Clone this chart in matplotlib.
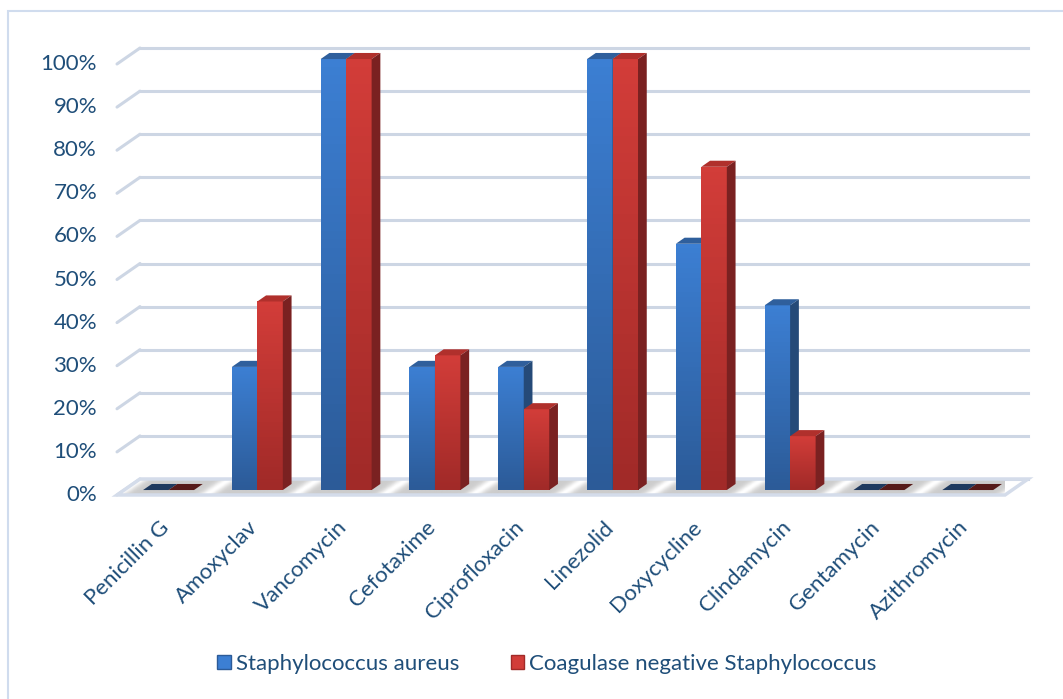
import numpy as np
import matplotlib
matplotlib.use("Agg")
import matplotlib.pyplot as plt
from matplotlib.patches import Polygon, Patch, Rectangle
from matplotlib.colors import LinearSegmentedColormap

# ======================
# DATA
# ======================
categories = ["Penicillin G", "Amoxyclav", "Vancomycin", "Cefotaxime", "Ciprofloxacin",
              "Linezolid", "Doxycycline", "Clindamycin", "Gentamycin", "Azithromycin"]
s_aureus = [0, 28.57, 100, 28.57, 28.57, 100, 57.14, 42.86, 0, 0]
cons     = [0, 43.75, 100, 31.25, 18.75, 100, 75.0, 12.5, 0, 0]
series_names = ["Staphylococcus aureus", "Coagulase negative Staphylococcus"]
y_ticks = list(range(0, 101, 10))

# ======================
# STYLE
# ======================
TEXT_C = "#1f4e79"
GRID_C = "#cdd6e4"
FS = 16
plt.rcParams["font.family"] = ["Lato", "DejaVu Sans"]

BLUE = {"front": ["#2c5b98", "#3c7fd3"], "top": "#2f5f9c", "side": "#254a78", "flat": "#1f3a5f"}
RED  = {"front": ["#a12a28", "#d23d39"], "top": "#b0302c", "side": "#7a2121", "flat": "#561a19"}

# oblique depth in data units (category units, percent)
DX, DY = 0.259, 3.71
D1, D2 = 0.31, 0.69      # bar front / back depth fraction
BAR_W = 0.287

fig = plt.figure(figsize=(10.63, 6.99), dpi=100)
ax = fig.add_axes([117 / 1063, (699 - 495) / 699, 888 / 1063, 431 / 699])

# chart border
fig.patches.append(Rectangle((8 / 1063, -0.05), 1.2, 1.05 - 11 / 699, transform=fig.transFigure,
                             fill=False, edgecolor="#d0dcee", lw=1.5))

# ======================
# WALL GRIDLINES
# ======================
for v in y_ticks:
    ax.plot([0, DX], [v, v + DY], color=GRID_C, lw=2.2, clip_on=False, zorder=0.5,
            solid_capstyle="round")
    ax.plot([DX, len(categories) + DX], [v + DY, v + DY], color=GRID_C, lw=2.2,
            clip_on=False, zorder=0.5)
    ax.text(-0.225, v, f"{v}%", ha="right", va="center", fontsize=FS, color=TEXT_C)

# ======================
# FLOOR
# ======================
n = len(categories)
floor_pts = [(0, 0), (n, 0), (n + DX, DY), (DX, DY)]
floor = Polygon(floor_pts, closed=True, facecolor="none", edgecolor="#d4dcea", lw=2.5,
                clip_on=False, zorder=1.2)
ax.add_patch(floor)
xx, yy = np.meshgrid(np.linspace(0, n + DX, 800), np.linspace(0, DY, 20))
s = (xx - yy / DY * DX) % 1.0
dist = np.minimum(s, 1 - s)
shade = 0.80 + 0.2 * np.exp(-(dist / 0.09) ** 2)
im = ax.imshow(shade, extent=(0, n + DX, 0, DY), origin="lower", cmap="gray",
               vmin=0, vmax=1, aspect="auto", zorder=1, clip_on=True)
im.set_clip_path(floor)


def draw_bar(x0, h, col, z):
    fx, fy = x0 + D1 * DX, D1 * DY
    ddx, ddy = (D2 - D1) * DX, (D2 - D1) * DY
    if h <= 0:
        flat = Polygon([(fx, fy), (fx + BAR_W, fy), (fx + BAR_W + ddx, fy + ddy), (fx + ddx, fy + ddy)],
                       closed=True, facecolor=col["flat"], edgecolor="none", clip_on=False, zorder=z)
        ax.add_patch(flat)
        return
    bar = ax.bar(fx, h, width=BAR_W, bottom=fy, align="edge", color=col["front"][0],
                 clip_on=False, zorder=z)[0]
    cmap = LinearSegmentedColormap.from_list("g", col["front"])
    g = ax.imshow(np.linspace(0, 1, 50).reshape(-1, 1), extent=(fx, fx + BAR_W, fy, fy + h),
                  origin="lower", cmap=cmap, aspect="auto", zorder=z + 0.01)
    g.set_clip_path(bar)
    top = Polygon([(fx, fy + h), (fx + BAR_W, fy + h), (fx + BAR_W + ddx, fy + h + ddy), (fx + ddx, fy + h + ddy)],
                  closed=True, facecolor=col["top"], edgecolor="none", clip_on=False, zorder=z + 0.02)
    side = Polygon([(fx + BAR_W, fy), (fx + BAR_W + ddx, fy + ddy), (fx + BAR_W + ddx, fy + h + ddy), (fx + BAR_W, fy + h)],
                   closed=True, facecolor=col["side"], edgecolor="none", clip_on=False, zorder=z + 0.02)
    ax.add_patch(top)
    ax.add_patch(side)


# ======================
# BARS
# ======================
for i, (a, b) in enumerate(zip(s_aureus, cons)):
    draw_bar(i + 0.5 - BAR_W, a, BLUE, 3 + i * 0.2)
    draw_bar(i + 0.5, b, RED, 3.1 + i * 0.2)
    ax.text(i + 0.55, -6.8, categories[i], rotation=45, rotation_mode="anchor",
            ha="right", va="center", fontsize=FS, color=TEXT_C)

ax.set_xlim(0, n)
ax.set_ylim(0, 100)
ax.axis("off")

# ======================
# LEGEND
# ======================
handles = [Patch(facecolor=BLUE["front"][1], edgecolor=BLUE["front"][0]),
           Patch(facecolor=RED["front"][1], edgecolor=RED["front"][0])]
fig.legend(handles, series_names, loc="center", bbox_to_anchor=(547 / 1063, 1 - 664 / 699),
           ncol=2, frameon=False, fontsize=FS, labelcolor=TEXT_C, handlelength=0.6,
           handleheight=0.6, handletextpad=0.25, columnspacing=2.3)

fig.savefig("out.png", dpi=100)
